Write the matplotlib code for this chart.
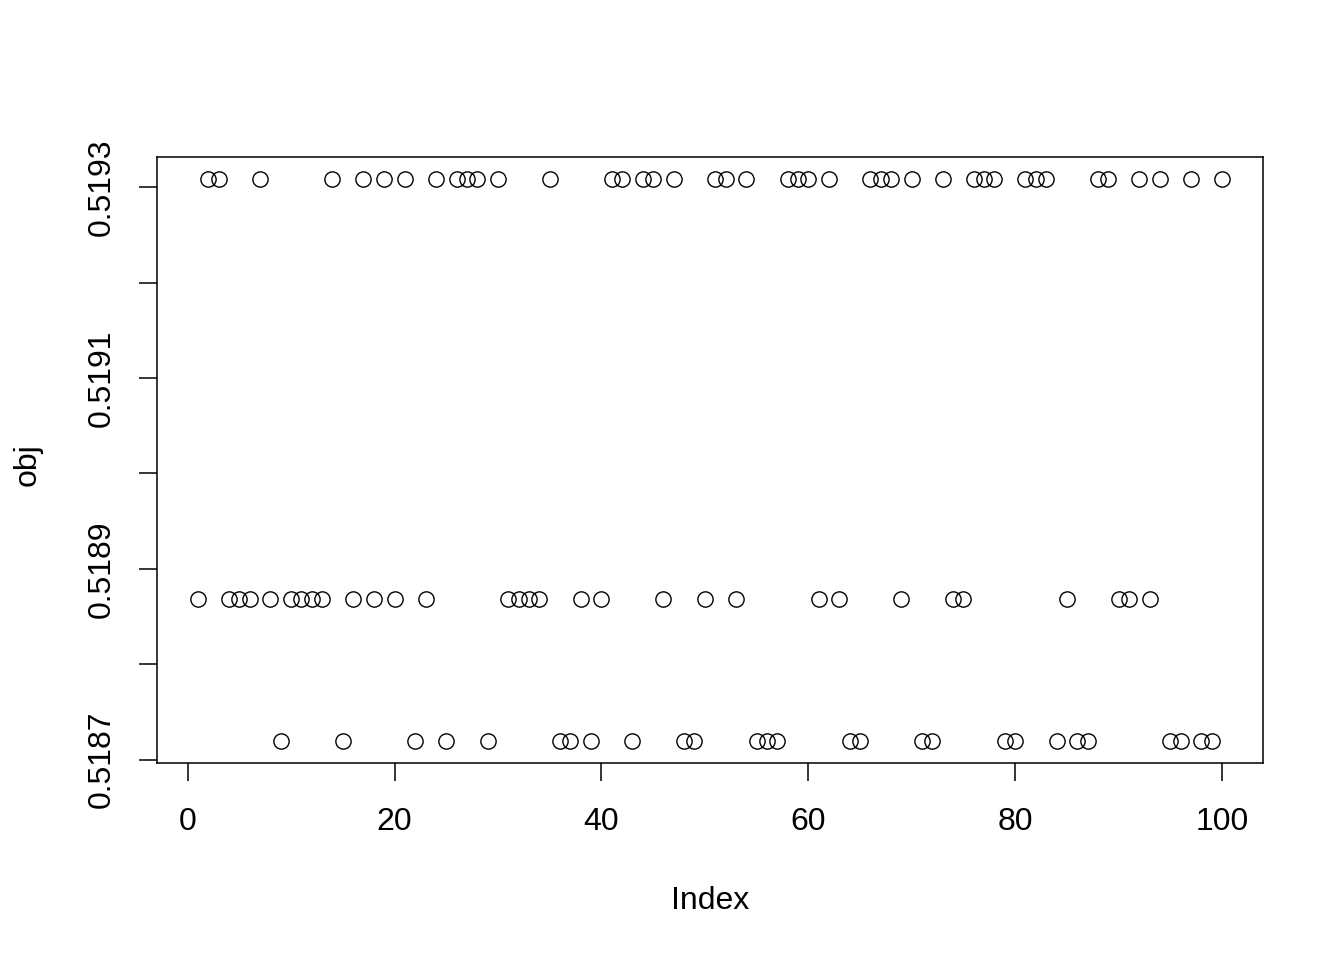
import numpy as np
import matplotlib
matplotlib.use("Agg")
import matplotlib.pyplot as plt

plt.rcParams['font.family'] = ['Liberation Sans', 'DejaVu Sans']

# three observed levels of obj
high_val = 0.519308
mid_val = 0.518868
low_val = 0.518720
# which index sits at which level
high_idx = [2, 3, 7, 14, 17, 19, 21, 24, 26, 27, 28, 30, 35, 41, 42, 44, 45, 47, 51, 52, 54,
            58, 59, 60, 62, 66, 67, 68, 70, 73, 76, 77, 78, 81, 82, 83, 88, 89, 92, 94, 97, 100]
mid_idx = [1, 4, 5, 6, 8, 10, 11, 12, 13, 16, 18, 20, 23, 31, 32, 33, 34, 38, 40, 46, 50, 53,
           61, 63, 69, 74, 75, 85, 90, 91, 93]
low_idx = [9, 15, 22, 25, 29, 36, 37, 39, 43, 48, 49, 55, 56, 57, 64, 65, 71, 72, 79, 80, 84,
           86, 87, 95, 96, 98, 99]

xticks = [0, 20, 40, 60, 80, 100]
yticks = [0.5187, 0.5188, 0.5189, 0.5190, 0.5191, 0.5192, 0.5193]
ylabels = ["0.5187", "", "0.5189", "", "0.5191", "", "0.5193"]

index = np.arange(1, 101)
obj = np.zeros(100)
obj[np.array(high_idx) - 1] = high_val
obj[np.array(mid_idx) - 1] = mid_val
obj[np.array(low_idx) - 1] = low_val

W, H = 1344, 960
fig = plt.figure(figsize=(W / 100, H / 100), dpi=100)
ax = fig.add_axes([157 / W, 1 - 763 / H, (1263 - 157) / W, (763 - 157) / H])

ax.plot(index, obj, 'o', mfc='none', mec='black', ms=11, mew=1.0)

xr = index.max() - index.min()
ax.set_xlim(index.min() - 0.04 * xr, index.max() + 0.04 * xr)
yr = obj.max() - obj.min()
ax.set_ylim(obj.min() - 0.04 * yr, obj.max() + 0.04 * yr)

ax.set_xticks(xticks)
ax.set_xticklabels([str(t) for t in xticks])
ax.set_yticks(yticks)
ax.set_yticklabels(ylabels, rotation=90, va='center')

for s in ax.spines.values():
    s.set_linewidth(1.1)
ax.tick_params(direction='out', length=13, width=1.1, labelsize=23)
ax.tick_params(axis='x', pad=19)
ax.tick_params(axis='y', pad=16)

fig.text(710 / W, 1 - 901 / H, "Index", ha='center', va='center', fontsize=23)
fig.text(28 / W, 1 - 465 / H, "obj", ha='center', va='center', rotation=90, fontsize=23)

fig.savefig("out.png", dpi=100)
